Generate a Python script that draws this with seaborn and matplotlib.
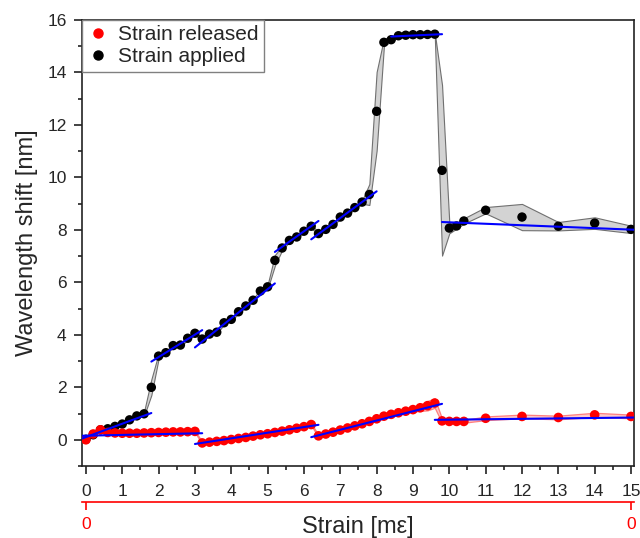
import numpy as np
import pandas as pd
import matplotlib
matplotlib.use("Agg")
import matplotlib.pyplot as plt
import seaborn as sns
from matplotlib.ticker import MultipleLocator, NullLocator
from matplotlib.lines import Line2D

# ---------------- data ----------------
x_applied = [0.0, 0.2, 0.4, 0.6, 0.8, 1.0, 1.2, 1.4, 1.6, 1.8, 2.0, 2.2, 2.4, 2.6, 2.8, 3.0,
             3.2, 3.4, 3.6, 3.8, 4.0, 4.2, 4.4, 4.6, 4.8, 5.0, 5.2, 5.4, 5.6, 5.8, 6.0, 6.2,
             6.4, 6.6, 6.8, 7.0, 7.2, 7.4, 7.6, 7.8, 8.0, 8.2, 8.4, 8.6, 8.8, 9.0, 9.2, 9.4, 9.6,
             9.8, 10.0, 10.2, 10.4, 11.0, 12.0, 13.0, 14.0, 15.0]
y_applied = [0.02, 0.19, 0.38, 0.42, 0.51, 0.60, 0.76, 0.91, 0.99, 2.00, 3.19, 3.32, 3.59, 3.61, 3.87, 4.06,
             3.84, 4.03, 4.10, 4.46, 4.59, 4.88, 5.10, 5.32, 5.67, 5.83, 6.84, 7.31, 7.60, 7.73, 7.95, 8.14,
             7.86, 8.02, 8.21, 8.49, 8.64, 8.85, 9.06, 9.35, 12.52, 15.15, 15.25, 15.40, 15.42, 15.44, 15.44, 15.45, 15.46,
             10.27, 8.07, 8.15, 8.34, 8.75, 8.49, 8.14, 8.26, 8.02]
err_applied = [0.05, 0.06, 0.06, 0.06, 0.06, 0.06, 0.06, 0.06, 0.08, 0.30, 0.10, 0.06, 0.06, 0.06, 0.06, 0.06,
               0.06, 0.06, 0.06, 0.06, 0.06, 0.06, 0.06, 0.06, 0.06, 0.08, 0.20, 0.08, 0.06, 0.06, 0.06, 0.06,
               0.06, 0.06, 0.06, 0.06, 0.06, 0.06, 0.06, 0.40, 1.50, 0.15, 0.06, 0.06, 0.06, 0.06, 0.06, 0.06, 0.05,
               3.25, 0.20, 0.10, 0.10, 0.12, 0.50, 0.16, 0.22, 0.14]

x_released = [0.0, 0.2, 0.4, 0.6, 0.8, 1.0, 1.2, 1.4, 1.6, 1.8, 2.0, 2.2, 2.4, 2.6, 2.8, 3.0,
              3.2, 3.4, 3.6, 3.8, 4.0, 4.2, 4.4, 4.6, 4.8, 5.0, 5.2, 5.4, 5.6, 5.8, 6.0, 6.2,
              6.4, 6.6, 6.8, 7.0, 7.2, 7.4, 7.6, 7.8, 8.0, 8.2, 8.4, 8.6, 8.8, 9.0, 9.2, 9.4, 9.6,
              9.8, 10.0, 10.2, 10.4, 11.0, 12.0, 13.0, 14.0, 15.0]
y_released = [0.00, 0.22, 0.38, 0.28, 0.26, 0.25, 0.25, 0.25, 0.26, 0.27, 0.28, 0.29, 0.30, 0.30, 0.31, 0.32,
              -0.12, -0.09, -0.06, -0.03, 0.01, 0.05, 0.09, 0.14, 0.19, 0.23, 0.28, 0.33, 0.38, 0.44, 0.50, 0.58,
              0.15, 0.22, 0.29, 0.37, 0.45, 0.53, 0.61, 0.70, 0.80, 0.90, 0.97, 1.03, 1.09, 1.15, 1.22, 1.30, 1.40,
              0.72, 0.70, 0.70, 0.70, 0.82, 0.89, 0.85, 0.95, 0.89]
err_released = [0.04] * 45 + [0.08, 0.12, 0.18, 0.18] + [0.08, 0.04, 0.04, 0.05, 0.07, 0.07, 0.07, 0.08, 0.07]

# linear fits per segment (start x, end x, start y, end y)
fit_applied_x0 = [-0.2, 1.8, 3.0, 5.2, 6.2, 8.4, 9.8]
fit_applied_x1 = [1.8, 3.2, 5.2, 6.4, 8.0, 9.8, 15.2]
fit_applied_y0 = [0.00, 2.98, 3.52, 7.16, 7.64, 15.37, 8.30]
fit_applied_y1 = [1.02, 4.18, 5.96, 8.34, 9.47, 15.46, 8.00]

fit_released_x0 = [-0.2, 3.0, 6.2, 9.6]
fit_released_x1 = [3.2, 6.4, 9.8, 15.2]
fit_released_y0 = [0.15, -0.16, 0.10, 0.76]
fit_released_y1 = [0.25, 0.57, 1.37, 0.85]

xticks = list(range(0, 16))
yticks = [0, 2, 4, 6, 8, 10, 12, 14, 16]

# ---------------- style ----------------
sns.set_theme(style="ticks")
plt.rcParams['font.family'] = ['Liberation Sans', 'DejaVu Sans']

df_app = pd.DataFrame({"x": x_applied, "y": y_applied, "e": err_applied})
df_rel = pd.DataFrame({"x": x_released, "y": y_released, "e": err_released})

fig = plt.figure(figsize=(6.4, 5.38), dpi=100)
ax = fig.add_axes([0.128, 0.1338, 0.8625, 0.829])

# bands
ax.fill_between(df_app.x, df_app.y - df_app.e, df_app.y + df_app.e,
                facecolor="#d3d3d3", edgecolor="#707070", linewidth=0.8, zorder=1)
sns.scatterplot(data=df_app, x="x", y="y", color="black", s=46, edgecolor="none",
                ax=ax, zorder=3, legend=False)

ax.fill_between(df_rel.x, df_rel.y - df_rel.e, df_rel.y + df_rel.e,
                facecolor=(1, 0.3, 0.3, 0.3), edgecolor=(1, 0.4, 0.4, 0.8), linewidth=0.9, zorder=2)
sns.scatterplot(data=df_rel, x="x", y="y", color="#ff0000", s=48, edgecolor="none",
                ax=ax, zorder=4, legend=False)

fit_rows = []
for i in range(len(fit_applied_x0)):
    fit_rows.append({"x": fit_applied_x0[i], "y": fit_applied_y0[i], "seg": f"a{i}"})
    fit_rows.append({"x": fit_applied_x1[i], "y": fit_applied_y1[i], "seg": f"a{i}"})
for i in range(len(fit_released_x0)):
    fit_rows.append({"x": fit_released_x0[i], "y": fit_released_y0[i], "seg": f"r{i}"})
    fit_rows.append({"x": fit_released_x1[i], "y": fit_released_y1[i], "seg": f"r{i}"})
df_fit = pd.DataFrame(fit_rows)
sns.lineplot(data=df_fit, x="x", y="y", units="seg", estimator=None, color="#0000ff",
             linewidth=1.5, ax=ax, zorder=5, legend=False, sort=False)

# axes
ax.set_xlim(-0.11, 15.08)
ax.set_ylim(-1.0, 16.0)
ax.set_xticks(xticks)
ax.set_yticks(yticks)
ax.xaxis.set_minor_locator(MultipleLocator(0.5))
ax.yaxis.set_minor_locator(MultipleLocator(1))
ax.tick_params(axis="both", which="major", direction="out", length=6, width=1.2,
               labelsize=12.5, color="#222222", pad=5)
ax.tick_params(axis="x", which="major", pad=7)
ax.tick_params(axis="both", which="minor", direction="out", length=3, width=1.2, color="#222222")
for sp in ax.spines.values():
    sp.set_visible(True)
    sp.set_linewidth(1.2)
    sp.set_color("#222222")

ax.set_ylabel("Wavelength shift [nm]", fontsize=17, labelpad=7)
ax.set_xlabel("Strain [mε]", fontsize=17, labelpad=12)

# secondary red axis
sec = ax.secondary_xaxis(-0.081)
sec.set_xticks([0, 15])
sec.set_xticklabels(["0", "0"])
sec.xaxis.set_minor_locator(NullLocator())
sec.spines["bottom"].set_color("red")
sec.spines["bottom"].set_linewidth(1.2)
sec.tick_params(axis="x", colors="red", direction="out", length=6, width=1.2, labelsize=12.5, pad=5)

# legend
handles = [Line2D([], [], marker="o", linestyle="none", color="#ff0000", markersize=6.5),
           Line2D([], [], marker="o", linestyle="none", color="black", markersize=6.5)]
leg = ax.legend(handles, ["Strain released", "Strain applied"], loc="upper left",
                bbox_to_anchor=(0.0, 1.0), borderaxespad=0.0, fancybox=False,
                edgecolor="#808080", framealpha=1.0, fontsize=15, handlelength=1.0,
                handletextpad=0.5, borderpad=0.25, labelspacing=0.15)
leg.get_frame().set_linewidth(1.0)

fig.savefig("out.png", dpi=100)
